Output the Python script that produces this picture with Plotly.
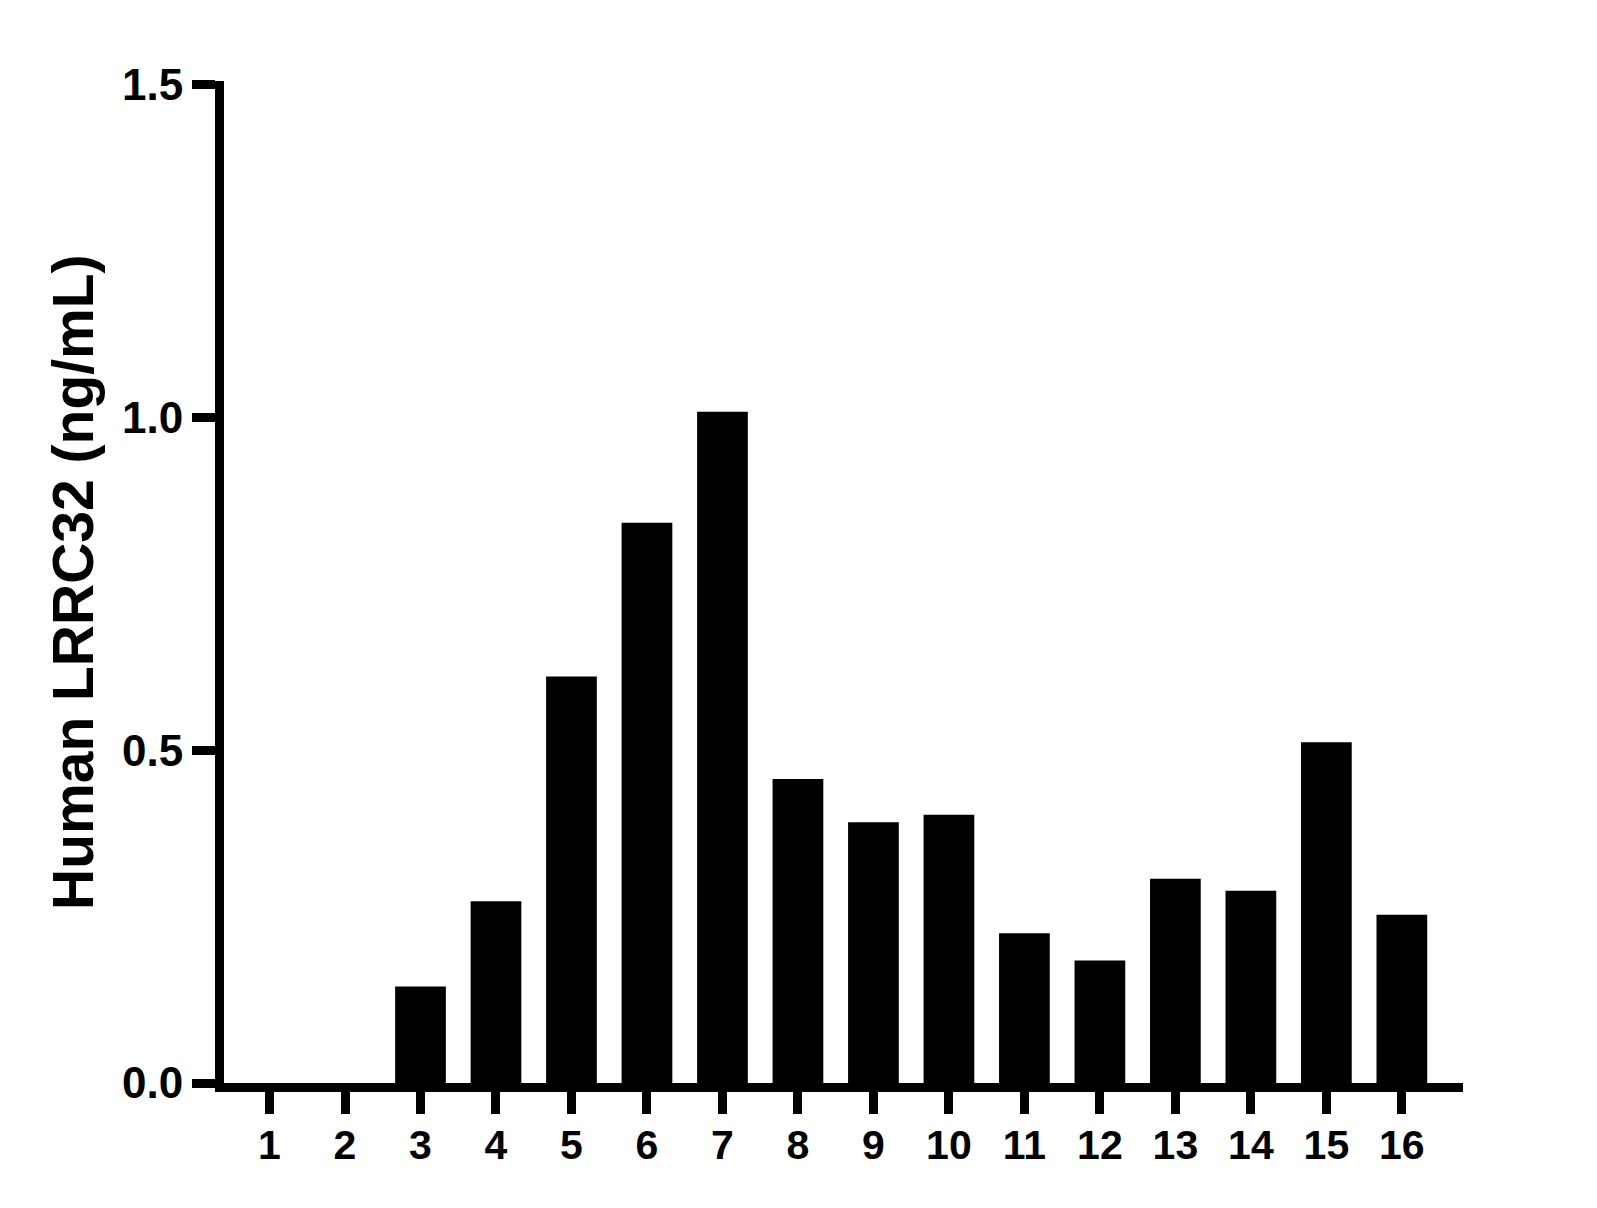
import plotly.graph_objects as go

categories = [str(i) for i in range(1, 17)]
values = [0.0, 0.0, 0.145, 0.273, 0.611, 0.842, 1.009, 0.457,
          0.392, 0.403, 0.225, 0.184, 0.307, 0.289, 0.512, 0.253]
y_ticks = [0.0, 0.5, 1.0, 1.5]
y_tick_labels = ["0.0", "0.5", "1.0", "1.5"]
y_title = "Human LRRC32 (ng/mL)"

x_pos = list(range(1, 17))

FONT = "Liberation Sans, Arial, sans-serif"

fig = go.Figure()
fig.add_trace(go.Bar(
    x=x_pos, y=values, width=0.672,
    marker=dict(color="black", line=dict(width=0)),
))

# page body has an 8px margin; compensate so the plot lands at absolute positions
BODY = 8
W, H = 1597, 1208
L, R, T, B = 224, 134.3, 80.5, 125.3
plot_w = W - L - R

fig.update_layout(
    width=W - 2 * BODY, height=H - 2 * BODY,
    margin=dict(l=L - BODY, r=R - BODY, t=T - BODY, b=B - BODY, pad=0),
    paper_bgcolor="white", plot_bgcolor="white",
    showlegend=False,
    font=dict(family=FONT, color="black"),
    xaxis=dict(
        range=[0.397, 16.81],
        tickmode="array", tickvals=x_pos,
        ticktext=["<b>%s</b>" % c for c in categories],
        ticks="outside", ticklen=22, tickwidth=9, tickcolor="black",
        showline=True, linewidth=9, linecolor="black",
        showgrid=False, zeroline=False,
        ticklabelstandoff=-4,
        tickfont=dict(size=41, family=FONT, color="black"),
    ),
    yaxis=dict(
        range=[0.0, 1.506],
        tickmode="array", tickvals=y_ticks,
        ticktext=["<b>%s</b>" % t for t in y_tick_labels],
        ticks="outside", ticklen=23, tickwidth=9, tickcolor="black",
        showline=True, linewidth=9, linecolor="black",
        showgrid=False, zeroline=False,
        tickfont=dict(size=44, family=FONT, color="black"),
    ),
)

fig.add_annotation(
    xref="paper", yref="paper",
    x=(73 - L) / plot_w, y=0.5,
    text="<b>%s</b>" % y_title, textangle=-90,
    showarrow=False, xanchor="center", yanchor="middle",
    font=dict(size=57, family=FONT, color="black"),
)

fig.write_html("out.html")
